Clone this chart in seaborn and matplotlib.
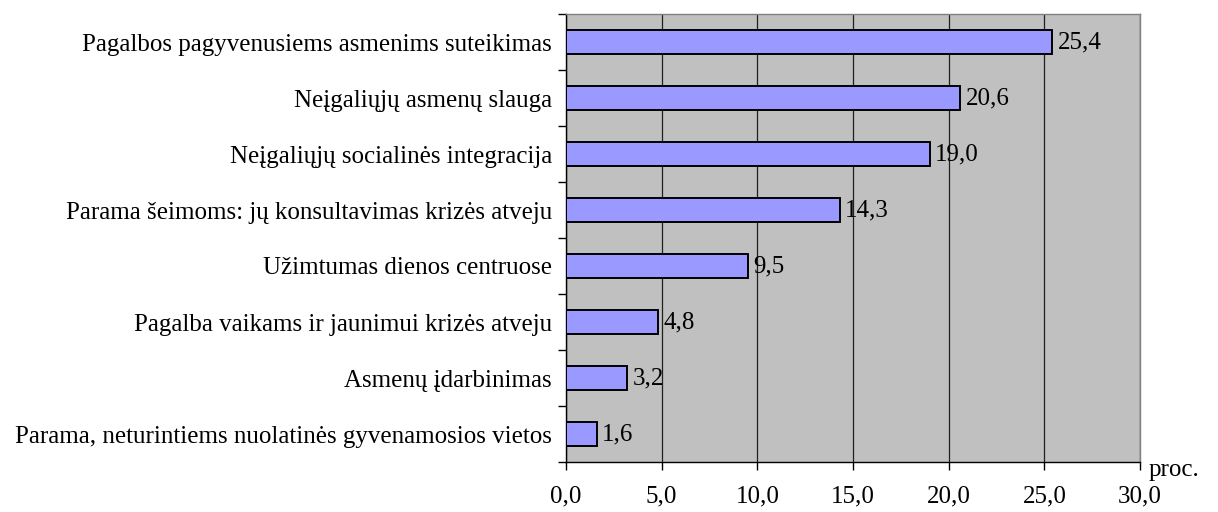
import matplotlib
matplotlib.use('Agg')
import matplotlib.pyplot as plt
import matplotlib.ticker as ticker
import pandas as pd
import seaborn as sns

categories = [
    'Pagalbos pagyvenusiems asmenims suteikimas',
    'Neįgaliųjų asmenų slauga',
    'Neįgaliųjų socialinės integracija',
    'Parama šeimoms: jų konsultavimas krizės atveju',
    'Užimtumas dienos centruose',
    'Pagalba vaikams ir jaunimui krizės atveju',
    'Asmenų įdarbinimas',
    'Parama, neturintiems nuolatinės gyvenamosios vietos',
]
values = [25.4, 20.6, 19.0, 14.3, 9.5, 4.8, 3.2, 1.6]
xticks = [0, 5, 10, 15, 20, 25, 30]

df = pd.DataFrame({'cat': categories, 'val': values})

sns.set_style('white')
plt.rcParams['font.family'] = ['Liberation Serif', 'DejaVu Serif']
plt.rcParams['text.color'] = 'black'
plt.rcParams['xtick.color'] = 'black'
plt.rcParams['ytick.color'] = 'black'
fs = 18

fig = plt.figure(figsize=(12.18, 5.12), dpi=100)
ax = fig.add_axes([566 / 1218, 1 - 462 / 512, (1140 - 566) / 1218, (462 - 14) / 512])
ax.set_facecolor('#C0C0C0')

sns.barplot(data=df, x='val', y='cat', order=categories, color='#9999FF',
            saturation=1, width=0.42, edgecolor='black', linewidth=1.4, ax=ax, zorder=3)

ax.set_xlim(0, 30)
ax.set_ylim(len(categories) - 0.5, -0.5)
ax.xaxis.set_major_locator(ticker.FixedLocator(xticks))
ax.xaxis.set_major_formatter(ticker.FuncFormatter(lambda v, p: f'{v:.1f}'.replace('.', ',')))
ax.grid(axis='x', color='#202020', linewidth=0.9, zorder=0)
ax.set_axisbelow(True)

# category labels centered, ticks on boundaries
ax.yaxis.set_major_locator(ticker.FixedLocator([i - 0.5 for i in range(len(categories) + 1)]))
ax.yaxis.set_major_formatter(ticker.NullFormatter())
ax.yaxis.set_minor_locator(ticker.FixedLocator(list(range(len(categories)))))
ax.yaxis.set_minor_formatter(ticker.FixedFormatter(categories))
ax.tick_params(axis='y', which='major', length=6, width=1, color='black', left=True, direction='out')
ax.tick_params(axis='y', which='minor', length=0, labelsize=fs, labelcolor='black', pad=10)
ax.tick_params(axis='x', length=6, width=1, color='black', bottom=True, direction='out',
               labelsize=fs, labelcolor='black', pad=11)

for side in ['top', 'right']:
    ax.spines[side].set_color('#808080')
    ax.spines[side].set_linewidth(1)
for side in ['left', 'bottom']:
    ax.spines[side].set_color('black')
    ax.spines[side].set_linewidth(1)
for side in ax.spines:
    ax.spines[side].set_visible(True)

ax.set_xlabel('')
ax.set_ylabel('')

for i, v in enumerate(values):
    ax.annotate(f'{v:.1f}'.replace('.', ','), (v, i), xytext=(4, 0), textcoords='offset points',
                ha='left', va='center', fontsize=fs)

ax.annotate('proc.', (1, 0), xycoords='axes fraction', xytext=(6, 2), textcoords='offset points',
            ha='left', va='top', fontsize=fs)

fig.savefig('out.png', dpi=100)
